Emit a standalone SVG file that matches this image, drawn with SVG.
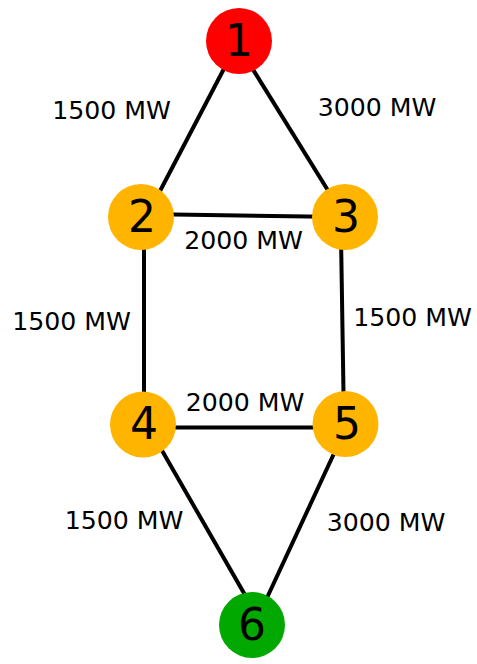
<svg xmlns="http://www.w3.org/2000/svg" width="477" height="664" viewBox="0 0 477 664">
<style>
.edge{stroke:#000;stroke-width:4;fill:none;stroke-linecap:butt}
.lbl{font-family:"DejaVu Sans",sans-serif;font-size:25.2px;fill:#000;text-anchor:middle}
.num{font-family:"DejaVu Sans",sans-serif;font-size:44px;fill:#000;text-anchor:middle}
</style>
<rect width="477" height="664" fill="#fff"/>
<g id="connectors">
<line class="edge" x1="236.4" y1="45" x2="148" y2="214"/>
<line class="edge" x1="237.8" y1="45" x2="342.6" y2="214"/>
<line class="edge" x1="141" y1="214" x2="345" y2="217"/>
<line class="edge" x1="144" y1="217" x2="144" y2="424"/>
<line class="edge" x1="340.7" y1="217" x2="344" y2="424"/>
<line class="edge" x1="143" y1="427.5" x2="345" y2="427.5"/>
<line class="edge" x1="148.5" y1="427" x2="256.5" y2="615"/>
<line class="edge" x1="346.3" y1="427" x2="259" y2="615"/>
</g>
<g id="edge-labels">
<text class="lbl" x="111.5" y="118.5">1500 MW</text>
<text class="lbl" x="377" y="116">3000 MW</text>
<text class="lbl" x="243.5" y="248.5">2000 MW</text>
<text class="lbl" x="71.5" y="330">1500 MW</text>
<text class="lbl" x="412.5" y="326">1500 MW</text>
<text class="lbl" x="245" y="410.5">2000 MW</text>
<text class="lbl" x="124" y="529">1500 MW</text>
<text class="lbl" x="386" y="531">3000 MW</text>
</g>
<g id="node1"><circle cx="239" cy="41" r="33" fill="#ff0000"/><text class="num" x="239" y="55.5">1</text></g>
<g id="node2"><circle cx="141" cy="217" r="33" fill="#ffb400"/><text class="num" x="142" y="231.5">2</text></g>
<g id="node3"><circle cx="345" cy="217" r="33" fill="#ffb400"/><text class="num" x="346" y="231.5">3</text></g>
<g id="node4"><circle cx="143" cy="424.5" r="33" fill="#ffb400"/><text class="num" x="144" y="439">4</text></g>
<g id="node5"><circle cx="345.5" cy="424" r="33" fill="#ffb400"/><text class="num" x="347" y="438.5">5</text></g>
<g id="node6"><circle cx="252" cy="625" r="33" fill="#00a800"/><text class="num" x="252" y="639.5">6</text></g>
</svg>
